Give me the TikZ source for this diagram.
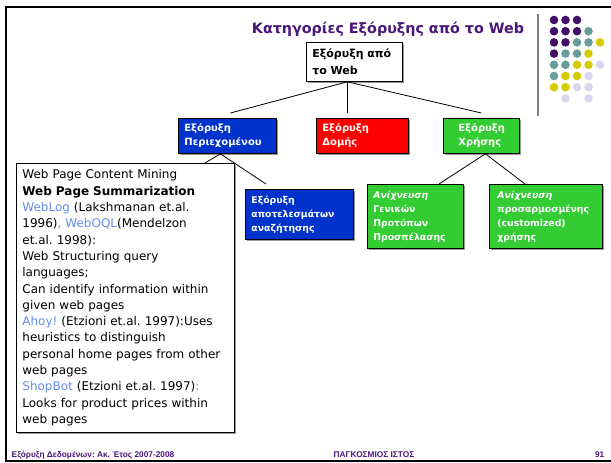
\documentclass[tikz,border=0pt]{standalone}
\usepackage{fontspec}
\setmainfont{DejaVu Sans}
\newfontfamily\footfont{Liberation Sans}
\usepackage{xcolor}
\usetikzlibrary{positioning,shadows}
\frenchspacing
\definecolor{titlepurple}{RGB}{72,22,120}
\definecolor{dotpurple}{RGB}{64,16,104}
\definecolor{dotteal}{RGB}{104,158,154}
\definecolor{dotyellow}{RGB}{212,204,0}
\definecolor{dotlilac}{RGB}{216,216,236}
\definecolor{boxblue}{RGB}{0,51,204}
\definecolor{boxred}{RGB}{255,0,0}
\definecolor{boxgreen}{RGB}{51,204,51}
\definecolor{linkblue}{RGB}{102,140,235}

\begin{document}
\begin{tikzpicture}[x=1pt, y=-1pt, line width=0.8pt,
catnode/.style={draw=black, anchor=north west, inner xsep=6pt, inner ysep=0pt, align=left, text=white,
  font=\fontsize{9.3}{14}\selectfont\bfseries,
  drop shadow={shadow xshift=1.3pt, shadow yshift=-1.3pt, fill=gray!80, opacity=1}},
topcat/.style={catnode, font=\fontsize{10}{14}\selectfont\bfseries, minimum height=35pt}]
\tikzstyle{every node}=[font=\small]
\useasboundingbox (0,0) rectangle (611,463);
% frame of the slide
\draw[line width=2.5pt] (5,7) -- (611,7);
\draw[line width=2pt] (6,6) -- (6,461);
\draw[line width=1.2pt] (5,461) -- (611,461);
\draw[gray, line width=1.5pt] (538,14) -- (538,116);
% dots
\foreach \cols [count=\r] in {
  {dotpurple,dotpurple,dotpurple,none,none},
  {dotpurple,dotpurple,dotpurple,dotteal,none},
  {dotpurple,dotpurple,dotteal,dotteal,dotyellow},
  {dotpurple,dotteal,dotteal,dotyellow,none},
  {dotteal,dotteal,dotyellow,dotyellow,dotlilac},
  {dotteal,dotyellow,dotyellow,dotlilac,none},
  {dotyellow,dotyellow,dotlilac,dotlilac,none},
  {none,dotlilac,none,dotlilac,none}}
  \foreach \col [count=\c] in \cols
    \path[fill=\col] ({554+11.5*(\c-1)},{20+11.2*(\r-1)}) circle (4.3);

\node[text=titlepurple, font=\fontsize{14.3}{17}\selectfont\bfseries] (0) at (388,29) {Κατηγορίες Εξόρυξης από το Web};

\node[catnode, fill=white, text=black, font=\fontsize{11}{17}\selectfont\bfseries,
  text width=84pt, minimum height=39pt] (1) at (306,42) {Εξόρυξη από\\το Web};
\node[topcat, fill=boxblue, text width=86pt] (2) at (178,118) {Εξόρυξη\\Περιεχομένου};
\node[topcat, fill=boxred, text width=80pt] (3) at (316,118) {Εξόρυξη\\Δομής};
\node[topcat, fill=boxgreen, inner xsep=15pt, text width=46pt] (4) at (443,118) {Εξόρυξη\\Χρήσης};
\node[catnode, fill=boxblue, text width=96pt, minimum height=50pt] (5) at (245,189) {Εξόρυξη\\αποτελεσμάτων\\αναζήτησης};
\node[catnode, fill=boxgreen, text width=84pt, minimum height=64pt] (6) at (367,184) {\textit{Ανίχνευση}\\Γενικών\\Προτύπων\\Προσπέλασης};
\node[catnode, fill=boxgreen, inner xsep=8pt, text width=97pt, minimum height=64pt] (7) at (489,184) {\textit{Ανίχνευση}\\προσαρμοσμένης\\(customized)\\χρήσης};
\node[catnode, fill=white, text=black, font=\fontsize{12}{16.3}\selectfont,
  text width=206pt, minimum height=269pt, drop shadow={shadow xshift=1pt, shadow yshift=-1pt, fill=gray!60, opacity=1}] (8) at (16,163)
  {Web Page Content Mining\\
  \textbf{Web Page Summarization}\\
  \textcolor{linkblue}{WebLog} (Lakshmanan et.al.\\
  1996)\textcolor{linkblue}{, WebOQL}(Mendelzon\\
  et.al. 1998):\\
  Web Structuring query\\
  languages;\\
  Can identify information within\\
  given web pages\\
  \textcolor{linkblue}{Ahoy!} (Etzioni et.al. 1997):Uses\\
  heuristics to distinguish\\
  personal home pages from other\\
  web pages\\
  \textcolor{linkblue}{ShopBot} (Etzioni et.al. 1997)\textcolor{linkblue}{:}\\
  Looks for product prices within\\
  web pages};

\draw ([xshift=-7pt]1.south) -- ([xshift=3pt,yshift=5pt]2.north);
\draw ([xshift=-7pt]1.south) -- ([xshift=-15pt,yshift=5pt]3.north);
\draw ([xshift=-7pt]1.south) -- ([yshift=5pt]4.north);
\draw ([xshift=-7pt]2.south) -- ([xshift=189pt]8.north west);
\draw ([xshift=-7pt]2.south) -- ([xshift=21pt,yshift=5pt]5.north west);
\draw ([xshift=4pt]4.south) -- ([xshift=72pt]6.north west);
\draw ([xshift=4pt]4.south) -- ([xshift=36pt]7.north west);

% footer
\node[anchor=west, text=titlepurple, font=\footfont\bfseries\fontsize{8.3}{9}\selectfont] (9) at (8,455) {Εξόρυξη Δεδομένων: Ακ. Έτος 2007-2008};
\node[text=titlepurple, font=\footfont\bfseries\fontsize{8.3}{9}\selectfont] (10) at (374,455) {ΠΑΓΚΟΣΜΙΟΣ ΙΣΤΟΣ};
\node[anchor=east, text=titlepurple, font=\footfont\bfseries\fontsize{8.3}{9}\selectfont] (11) at (608,455) {91};
\end{tikzpicture}
\end{document}
